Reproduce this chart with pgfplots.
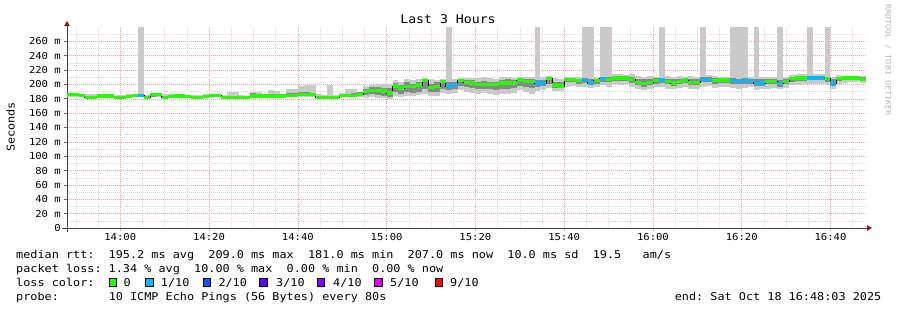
\documentclass[border=0pt]{standalone}
\usepackage{fontspec}
\setmainfont{DejaVu Sans Mono}[FakeStretch=1.1]
\usepackage{pgfplots}
\pgfplotsset{compat=1.18}
\usepackage{pgfplotstable}
\usetikzlibrary{arrows.meta}
\definecolor{loss0}{HTML}{26FF00}
\definecolor{loss1}{HTML}{00B8FF}
\definecolor{loss2}{HTML}{0059FF}
\definecolor{loss3}{HTML}{5E00FF}
\definecolor{loss4}{HTML}{7E00FF}
\definecolor{loss5}{HTML}{DD00FF}
\definecolor{loss9}{HTML}{FF0000}
\definecolor{smokeL}{HTML}{CACACA}
\definecolor{smokeD}{HTML}{888888}
\definecolor{gridmaj}{HTML}{F2A0A0}
\definecolor{gridmin}{HTML}{DADADA}
\definecolor{arrowred}{HTML}{8B1A1A}

\pgfplotstableread{
i lo q1 med q3 hi loss
0 182 184 186 187 188 0
1 182 184 186 187 188 0
2 182 183 185 186 187 0
3 181 181 182 184 186 0
4 181 181 182 184 186 0
5 182 183 184 185 186 0
6 182 183 184 185 186 0
7 182 183 184 185 186 0
8 181 181 182 184 185 0
9 181 182 182 183 185 0
10 181 182 183 184 186 0
11 182 183 185 185 186 0
12 183 184 185 186 300 1
13 181 181 182 183 185 0
14 182 183 186 186 187 0
15 182 184 186 186 187 0
16 181 182 182 184 186 0
17 181 182 183 185 186 0
18 181 182 184 185 186 0
19 182 183 184 185 186 0
20 181 182 183 184 185 0
21 181 181 182 183 185 0
22 181 181 182 183 185 0
23 181 182 183 184 186 0
24 181 183 185 186 187 0
25 182 183 185 186 187 0
26 181 181 182 183 185 0
27 181 182 182 184 190 0
28 181 182 182 184 190 0
29 181 181 182 183 185 0
30 181 182 182 183 184 0
31 182 183 184 188 190 0
32 182 183 184 187 189 0
33 182 183 184 185 186 0
34 182 183 184 186 192 0
35 182 183 184 186 191 0
36 182 183 184 186 186 0
37 182 183 185 188 194 0
38 182 184 185 188 194 0
39 183 184 186 189 198 0
40 183 184 186 189 199 0
41 183 184 186 188 199 0
42 181 181 182 184 186 0
43 180 181 182 183 185 0
44 181 182 182 183 199 0
45 180 181 182 183 185 0
46 181 183 185 186 188 0
47 182 183 185 187 193 0
48 182 184 185 188 194 0
49 182 184 186 189 190 0
50 181 185 190 194 198 0
51 182 186 192 196 199 0
52 181 185 192 196 200 0
53 181 184 191 195 200 0
54 180 183 188 195 201 0
55 184 189 198 202 206 0
56 183 187 195 199 204 0
57 184 189 197 203 207 0
58 184 188 197 201 206 0
59 185 190 199 203 207 0
60 187 193 205 207 209 0
61 184 189 196 201 208 0
62 184 189 197 203 206 0
63 188 194 204 206 208 0
64 187 192 198 204 300 1
65 188 193 200 204 208 1
66 192 198 205 207 209 0
67 189 196 203 206 209 0
68 188 195 202 206 209 0
69 187 193 200 204 209 0
70 188 194 200 205 210 0
71 187 194 200 204 209 0
72 185 192 200 204 208 0
73 186 193 202 206 210 0
74 187 194 202 207 210 0
75 188 195 202 206 209 0
76 192 198 206 208 211 0
77 189 196 204 207 210 0
78 187 195 204 207 211 0
79 191 197 202 206 300 1
80 192 198 202 206 210 1
81 195 201 208 210 212 0
82 191 195 199 204 209 0
83 191 195 198 203 208 0
84 197 203 207 209 211 0
85 198 203 207 209 211 0
86 196 201 205 208 210 0
87 197 202 205 209 300 1
88 195 199 202 207 300 1
89 197 201 205 208 211 0
90 199 204 208 211 300 1
91 197 203 207 211 300 0
92 200 205 209 212 214 0
93 199 205 209 211 214 0
94 200 205 209 211 213 0
95 196 202 207 211 214 0
96 193 199 203 208 212 0
97 192 197 201 207 211 0
98 193 199 203 208 212 0
99 196 201 205 209 211 0
100 197 202 206 209 300 1
101 194 200 204 208 212 0
102 193 198 202 207 211 0
103 195 200 204 208 212 0
104 196 202 206 209 211 0
105 193 199 203 208 212 0
106 194 199 203 208 211 0
107 197 203 207 210 300 1
108 198 203 207 210 213 1
109 195 201 205 209 212 0
110 196 202 206 209 211 0
111 197 202 206 209 211 0
112 195 201 205 209 300 1
113 194 200 204 208 300 1
114 195 201 205 209 300 1
115 196 201 205 208 211 1
116 192 198 202 207 300 1
117 193 198 202 207 211 1
118 194 200 204 208 211 0
119 195 200 204 208 211 0
120 193 197 201 206 300 1
121 195 200 204 208 211 0
122 199 204 208 211 213 0
123 199 205 209 212 214 0
124 200 205 209 211 214 0
125 200 206 209 212 300 1
126 201 206 209 212 214 1
127 201 206 210 212 215 1
128 199 204 208 211 300 0
129 194 198 202 207 211 1
130 200 205 208 211 213 0
131 202 206 209 211 212 0
132 203 206 209 211 212 0
133 203 206 209 211 212 0
134 202 205 207 210 212 0
135 202 205 207 210 212 0
}\rtt

\newcommand{\lgfont}{\fontsize{10.75}{12}\selectfont}
\newcommand{\tkfont}{\fontsize{9.6}{11}\selectfont}

\begin{document}
\begin{tikzpicture}
\useasboundingbox (0pt,0pt) rectangle (897pt,-310pt);
\begin{axis}[
  at={(67pt,-228pt)}, anchor=south west,
  scale only axis, width=799pt, height=201pt,
  xmin=0, xmax=180, ymin=0, ymax=280,
  axis x line=bottom, axis y line=left,
  x axis line style={draw=black!75, line width=0.8pt, shorten <=-5pt, shorten >=-6pt,
     -{Triangle[length=5pt,width=5.5pt,color=arrowred]}},
  y axis line style={draw=black!75, line width=0.8pt, shorten <=-4pt, shorten >=-6pt,
     -{Triangle[length=5pt,width=5.5pt,color=arrowred]}},
  xtick={12,32,52,72,92,112,132,152,172},
  xticklabels={14:00,14:20,14:40,15:00,15:20,15:40,16:00,16:20,16:40},
  minor xtick={2,7,17,22,27,37,42,47,57,62,67,77,82,87,97,102,107,117,122,127,137,142,147,157,162,167,177},
  ytick={0,20,...,260},
  yticklabels={0,20 m,40 m,60 m,80 m,100 m,120 m,140 m,160 m,180 m,200 m,220 m,240 m,260 m},
  minor ytick={10,30,...,270},
  xmajorgrids, ymajorgrids, xminorgrids, yminorgrids,
  major grid style={draw=gridmaj, line width=0.5pt, dash pattern=on 1pt off 1pt},
  minor grid style={draw=gridmin, line width=0.5pt, dash pattern=on 1pt off 1pt},
  tick align=outside, major tick length=3pt, minor tick length=0pt,
  xtick style={draw=gridmaj, line width=0.6pt},
  ytick style={draw=black!60, line width=0.6pt},
  /pgf/number format/assume math mode=true,
  xticklabel style={font=\tkfont, inner sep=0pt, anchor=north, yshift=-2pt},
  yticklabel style={font=\tkfont, inner sep=0pt, anchor=east, xshift=-3pt},
  clip=true,
]
% outer smoke (min..max)
\addplot[draw=none, mark=none, restrict x to domain=0:180,
  error bars/.cd, y dir=minus, y explicit, error mark=none,
  error bar style={draw=smokeL, line width=5.92pt, line cap=butt}]
  table[x expr=(\thisrow{i}+0.5)*4/3, y=hi, y error minus expr=\thisrow{hi}-\thisrow{lo}]{\rtt};
% inner smoke (quartiles)
\addplot[draw=none, mark=none, restrict x to domain=0:180,
  error bars/.cd, y dir=minus, y explicit, error mark=none,
  error bar style={draw=smokeD, line width=5.92pt, line cap=butt}]
  table[x expr=(\thisrow{i}+0.5)*4/3, y=q3, y error minus expr=\thisrow{q3}-\thisrow{q1}]{\rtt};
% median line
\addplot[black, line width=0.7pt, const plot, mark=none] table[x expr=\thisrow{i}*4/3, y=med]{\rtt};
% median loss colour
\addplot[scatter, only marks, point meta=explicit symbolic, restrict x to domain=0:180,
  mark=-, mark size=2.96pt, mark options={line width=3.3pt, line cap=butt},
  scatter/classes={0={draw=loss0}, 1={draw=loss1}}]
  table[x expr=(\thisrow{i}+0.5)*4/3, y=med, meta=loss]{\rtt};
\end{axis}

\node[font=\fontsize{12}{14}\selectfont, anchor=base, inner sep=0pt] at (448pt,-24pt) {Last 3 Hours};
\node[font=\lgfont, rotate=90, inner sep=0pt] at (10.5pt,-127pt) {Seconds};
\node[font=\fontsize{7.6}{9}\selectfont, text=black!28, rotate=-90, inner sep=0pt] at (888pt,-60pt) {RRDTOOL / TOBI OETIKER};

\node[font=\lgfont, anchor=base west, inner sep=0pt] at (16pt,-258pt)
 {median~rtt:~~195.2~ms~avg~~209.0~ms~max~~181.0~ms~min~~207.0~ms~now~~10.0~ms~sd~~19.5~~~am/s};
\node[font=\lgfont, anchor=base west, inner sep=0pt] at (16pt,-272pt)
 {packet~loss:~1.34~\%~avg~~10.00~\%~max~~0.00~\%~min~~0.00~\%~now};
\node[font=\lgfont, anchor=base west, inner sep=0pt] at (16pt,-286pt) {loss~color:};
\node[font=\lgfont, anchor=base west, inner sep=0pt] at (16pt,-300pt)
 {probe:~~~~~~~10~ICMP~Echo~Pings~(56~Bytes)~every~80s};
\node[font=\lgfont, anchor=base east, inner sep=0pt] at (881.5pt,-300pt) {end:~Sat~Oct~18~16:48:03~2025};

\foreach \bx/\col in {109/loss0, 145.7/loss1, 203/loss2, 259.7/loss3, 317/loss4, 374.7/loss5, 435/loss9}{
  \draw[black, line width=0.6pt, fill=\col] (\bx pt,-278.5pt) rectangle ++(7.5pt,-7.5pt);
}
\node[font=\lgfont, anchor=base west, inner sep=0pt] at (123.3pt,-286pt) {0};
\node[font=\lgfont, anchor=base west, inner sep=0pt] at (160.7pt,-286pt) {1/10};
\node[font=\lgfont, anchor=base west, inner sep=0pt] at (218.3pt,-286pt) {2/10};
\node[font=\lgfont, anchor=base west, inner sep=0pt] at (276pt,-286pt) {3/10};
\node[font=\lgfont, anchor=base west, inner sep=0pt] at (333pt,-286pt) {4/10};
\node[font=\lgfont, anchor=base west, inner sep=0pt] at (390pt,-286pt) {5/10};
\node[font=\lgfont, anchor=base west, inner sep=0pt] at (450pt,-286pt) {9/10};
\end{tikzpicture}
\end{document}
